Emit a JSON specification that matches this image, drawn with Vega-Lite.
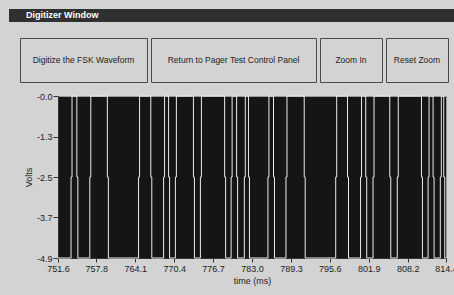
{
  "$schema": "https://vega.github.io/schema/vega-lite/v6.json",
  "background": "#d3d3d3",
  "padding": {"left": 9, "top": 9, "right": 0, "bottom": 10},
  "config": {
    "font": "Liberation Sans, sans-serif"
  },
  "vconcat": [
    {
      "width": 446,
      "height": 13,
      "title": {
        "text": "Digitizer Window",
        "anchor": "start",
        "orient": "top",
        "baseline": "alphabetic",
        "offset": -9.5,
        "dx": 17,
        "dy": 8,
        "color": "#ffffff",
        "font": "Liberation Sans",
        "fontSize": 9,
        "fontWeight": "bold"
      },
      "data": {"values": []},
      "mark": "point",
      "view": {"fill": "#303030", "stroke": null}
    },
    {
      "vconcat": [
        {
          "hconcat": [
            {"width": 7, "height": 44, "data": {"values": []}, "mark": "point", "view": {"fill": null, "stroke": null}},
            {"width": 127, "height": 44, "data": {"values": [{"label": "Digitize the FSK Waveform"}]}, "mark": {"type": "text", "fontSize": 8.5, "color": "#222222"}, "encoding": {"text": {"field": "label"}}, "view": {"fill": "#d3d3d3", "stroke": "#4a4a4a"}},
            {"width": 165, "height": 44, "data": {"values": [{"label": "Return to Pager Test Control Panel"}]}, "mark": {"type": "text", "fontSize": 8.5, "color": "#222222"}, "encoding": {"text": {"field": "label"}}, "view": {"fill": "#d3d3d3", "stroke": "#4a4a4a"}},
            {"width": 62, "height": 44, "data": {"values": [{"label": "Zoom In"}]}, "mark": {"type": "text", "fontSize": 8.5, "color": "#222222"}, "encoding": {"text": {"field": "label"}}, "view": {"fill": "#d3d3d3", "stroke": "#4a4a4a"}},
            {"width": 62, "height": 44, "data": {"values": [{"label": "Reset Zoom"}]}, "mark": {"type": "text", "fontSize": 8.5, "color": "#222222"}, "encoding": {"text": {"field": "label"}}, "view": {"fill": "#d3d3d3", "stroke": "#4a4a4a"}}
          ],
          "spacing": 4,
          "bounds": "flush"
        },
        {
          "hconcat": [
            {"width": 45, "height": 162, "data": {"values": []}, "mark": "point", "view": {"fill": null, "stroke": null}},
            {
              "width": 388,
              "height": 162,
              "data": {"values": [
                {"t":751.6,"v":-4.9},
                {"t":753.71,"v":-4.9},{"t":753.71,"v":-2.45},{"t":753.87,"v":-2.45},{"t":753.87,"v":0},{"t":754.65,"v":0},{"t":754.65,"v":-2.45},{"t":754.81,"v":-2.45},{"t":754.81,"v":-4.9},
                {"t":756.75,"v":-4.9},{"t":756.75,"v":-2.45},{"t":756.91,"v":-2.45},{"t":756.91,"v":0},{"t":759.59,"v":0},{"t":759.59,"v":-2.45},{"t":759.75,"v":-2.45},{"t":759.75,"v":-4.9},
                {"t":764.64,"v":-4.9},{"t":764.64,"v":-2.45},{"t":764.80,"v":-2.45},{"t":764.80,"v":0},{"t":766.62,"v":0},{"t":766.62,"v":-2.45},{"t":766.78,"v":-2.45},{"t":766.78,"v":-4.9},
                {"t":768.69,"v":-4.9},{"t":768.69,"v":-2.45},{"t":768.85,"v":-2.45},{"t":768.85,"v":0},{"t":769.50,"v":0},{"t":769.50,"v":-2.45},{"t":769.66,"v":-2.45},{"t":769.66,"v":-4.9},
                {"t":770.60,"v":-4.9},{"t":770.60,"v":-2.45},{"t":770.76,"v":-2.45},{"t":770.76,"v":0},{"t":773.52,"v":0},{"t":773.52,"v":-2.45},{"t":773.68,"v":-2.45},{"t":773.68,"v":-4.9},
                {"t":774.65,"v":-4.9},{"t":774.65,"v":-2.45},{"t":774.81,"v":-2.45},{"t":774.81,"v":0},{"t":778.57,"v":0},{"t":778.57,"v":-2.45},{"t":778.73,"v":-2.45},{"t":778.73,"v":-4.9},
                {"t":779.62,"v":-4.9},{"t":779.62,"v":-2.45},{"t":779.78,"v":-2.45},{"t":779.78,"v":0},{"t":780.51,"v":0},{"t":780.51,"v":-2.45},{"t":780.67,"v":-2.45},{"t":780.67,"v":-4.9},
                {"t":781.76,"v":-4.9},{"t":781.76,"v":-2.45},{"t":781.92,"v":-2.45},{"t":781.92,"v":0},{"t":782.43,"v":0},{"t":782.43,"v":-2.45},{"t":782.59,"v":-2.45},{"t":782.59,"v":-4.9},
                {"t":785.58,"v":-4.9},{"t":785.58,"v":-2.45},{"t":785.74,"v":-2.45},{"t":785.74,"v":0},{"t":786.48,"v":0},{"t":786.48,"v":-2.45},{"t":786.64,"v":-2.45},{"t":786.64,"v":-4.9},
                {"t":788.50,"v":-4.9},{"t":788.50,"v":-2.45},{"t":788.66,"v":-2.45},{"t":788.66,"v":0},{"t":791.45,"v":0},{"t":791.45,"v":-2.45},{"t":791.61,"v":-2.45},{"t":791.61,"v":-4.9},
                {"t":796.55,"v":-4.9},{"t":796.55,"v":-2.45},{"t":796.71,"v":-2.45},{"t":796.71,"v":0},{"t":798.46,"v":0},{"t":798.46,"v":-2.45},{"t":798.62,"v":-2.45},{"t":798.62,"v":-4.9},
                {"t":800.57,"v":-4.9},{"t":800.57,"v":-2.45},{"t":800.73,"v":-2.45},{"t":800.73,"v":0},{"t":801.41,"v":0},{"t":801.41,"v":-2.45},{"t":801.57,"v":-2.45},{"t":801.57,"v":-4.9},
                {"t":802.59,"v":-4.9},{"t":802.59,"v":-2.45},{"t":802.75,"v":-2.45},{"t":802.75,"v":0},{"t":805.30,"v":0},{"t":805.30,"v":-2.45},{"t":805.46,"v":-2.45},{"t":805.46,"v":-4.9},
                {"t":806.51,"v":-4.9},{"t":806.51,"v":-2.45},{"t":806.67,"v":-2.45},{"t":806.67,"v":0},{"t":810.43,"v":0},{"t":810.43,"v":-2.45},{"t":810.59,"v":-2.45},{"t":810.59,"v":-4.9},
                {"t":811.50,"v":-4.9},{"t":811.50,"v":-2.45},{"t":811.66,"v":-2.45},{"t":811.66,"v":0},{"t":812.31,"v":0},{"t":812.31,"v":-2.45},{"t":812.47,"v":-2.45},{"t":812.47,"v":-4.9},
                {"t":813.48,"v":-4.9},{"t":813.48,"v":-2.45},{"t":813.64,"v":-2.45},{"t":813.64,"v":0},{"t":814.04,"v":0},{"t":814.04,"v":-2.45},{"t":814.20,"v":-2.45},{"t":814.20,"v":-4.9},
                {"t":814.4,"v":-4.9}
              ]},
              "mark": {"type": "line", "color": "#ececec", "strokeWidth": 1, "interpolate": "linear"},
              "encoding": {
                "x": {
                  "field": "t", "type": "quantitative",
                  "scale": {"domain": [751.6, 814.4], "nice": false, "zero": false},
                  "axis": {
                    "title": "time (ms)",
                    "values": [751.6, 757.8, 764.1, 770.4, 776.7, 783.0, 789.3, 795.6, 801.9, 808.2, 814.4],
                    "format": ".1f",
                    "grid": false,
                    "labelFlush": false,
                    "labelOverlap": false,
                    "tickSize": 4,
                    "tickColor": "#333333",
                    "domainColor": "#333333",
                    "labelFontSize": 9,
                    "labelColor": "#222222",
                    "labelPadding": 2,
                    "titleFontSize": 9,
                    "titleFontWeight": "normal",
                    "titleColor": "#222222",
                    "titlePadding": 3
                  }
                },
                "y": {
                  "field": "v", "type": "quantitative",
                  "scale": {"domain": [-4.9, 0], "nice": false, "zero": false},
                  "axis": {
                    "title": "Volts",
                    "values": [0, -1.225, -2.45, -3.675, -4.9],
                    "labelExpr": "datum.value > -0.5 ? '-0.0' : datum.value > -1.8 ? '-1.3' : datum.value > -3 ? '-2.5' : datum.value > -4.2 ? '-3.7' : '-4.9'",
                    "grid": false,
                    "tickSize": 5,
                    "tickColor": "#333333",
                    "domainColor": "#333333",
                    "labelFontSize": 9,
                    "labelColor": "#222222",
                    "labelPadding": 1,
                    "titleFontSize": 9,
                    "titleFontWeight": "normal",
                    "titleColor": "#222222",
                    "titlePadding": 3
                  }
                },
                "order": {"value": null}
              },
              "view": {"fill": "#151515", "stroke": "#9a9a9a"}
            }
          ],
          "spacing": 4,
          "bounds": "flush"
        }
      ],
      "spacing": 8,
      "bounds": "full"
    }
  ],
  "spacing": 15,
  "bounds": "full"
}
